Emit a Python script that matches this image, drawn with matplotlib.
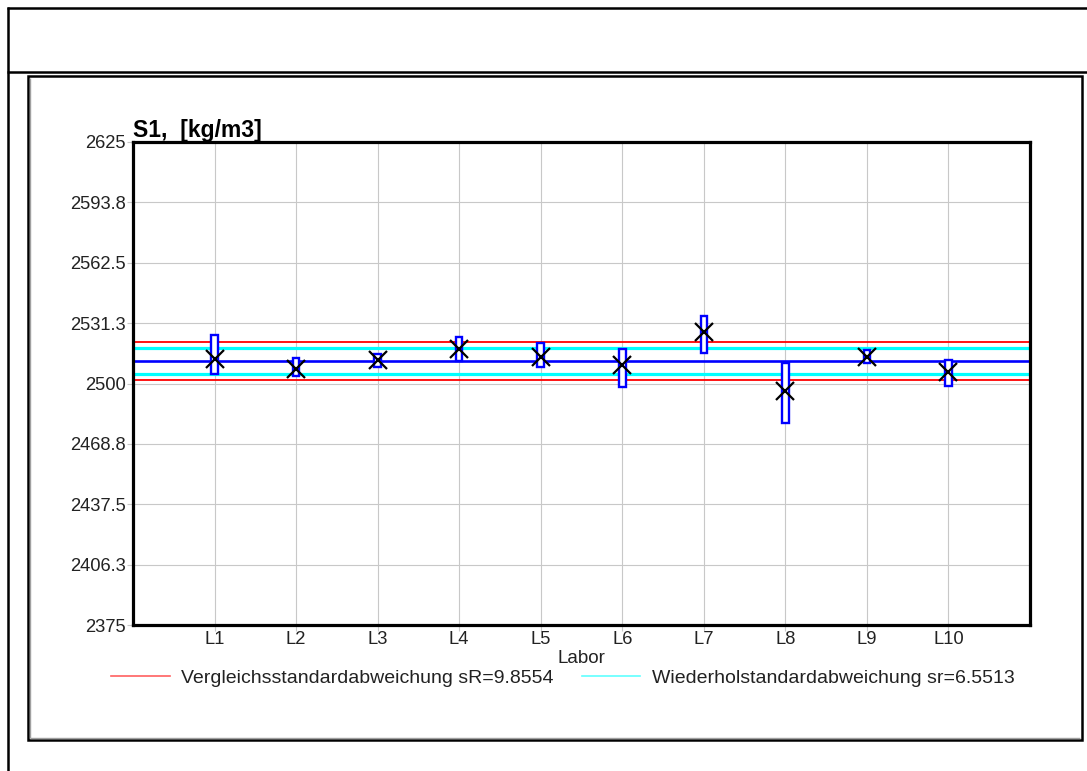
import numpy as np
import matplotlib
matplotlib.use('Agg')
import matplotlib.pyplot as plt
from matplotlib.lines import Line2D
from matplotlib.patches import Rectangle

plt.rcParams['font.family'] = ['Liberation Sans', 'DejaVu Sans']

# Labordaten S1 [kg/m3]
labs = ['L1', 'L2', 'L3', 'L4', 'L5', 'L6', 'L7', 'L8', 'L9', 'L10']
lab_mean = [2512.5, 2507.5, 2512.2, 2517.9, 2513.6, 2509.6, 2526.5, 2496.3, 2513.9, 2505.8]
box_low = [2505.1, 2503.7, 2508.4, 2511.5, 2508.4, 2498.3, 2515.8, 2479.5, 2510.6, 2498.5]
box_high = [2525.1, 2513.1, 2515.1, 2524.1, 2521.1, 2518.0, 2535.0, 2510.5, 2517.2, 2512.0]
sR = 9.8554
sr = 6.5513
y_ticks = [2375, 2406.25, 2437.5, 2468.75, 2500, 2531.25, 2562.5, 2593.75, 2625]
y_ticklabels = ['2375', '2406.3', '2437.5', '2468.8', '2500', '2531.3', '2562.5', '2593.8', '2625']

W, H = 1087, 771
fig = plt.figure(figsize=(W / 100, H / 100), dpi=100)


def fx(px):
    return px / W


def fy(py):
    return 1 - py / H


# Rahmen um das Diagramm
def frame_line(x0, y0, x1, y1, lw=1.8, color='black'):
    fig.add_artist(Line2D([fx(x0), fx(x1)], [fy(y0), fy(y1)], transform=fig.transFigure,
                          color=color, lw=lw, solid_capstyle='butt'))


frame_line(7, 8, W, 8)
frame_line(7.5, 7, 7.5, H)
frame_line(7, 72, W, 72)
# leichter Schatten innen am Rahmen
frame_line(30, 78, 30, 738, lw=1.0, color='#a0a0a0')
frame_line(30, 737.5, 1080, 737.5, lw=1.0, color='#a0a0a0')
fig.add_artist(Rectangle((fx(28), fy(740)), fx(1082) - fx(28), fy(76) - fy(740),
                         transform=fig.transFigure, fill=False, ec='black', lw=1.8))

ax = fig.add_axes([fx(133), fy(625), fx(1030) - fx(133), fy(142) - fy(625)])

x = np.arange(1, len(labs) + 1)
grand_mean = np.mean(lab_mean)

ax.axhline(grand_mean + sR, color='#ff0000', lw=1.3, zorder=2)
ax.axhline(grand_mean - sR, color='#ff0000', lw=1.3, zorder=2)
ax.axhline(grand_mean + sr, color='#00ffff', lw=2.3, zorder=2)
ax.axhline(grand_mean - sr, color='#00ffff', lw=2.3, zorder=2)
ax.axhline(grand_mean, color='#0000ff', lw=1.9, zorder=2)

bw = 0.08
for xi, lo, hi in zip(x, box_low, box_high):
    ax.add_patch(Rectangle((xi - bw / 2, lo), bw, hi - lo, fc='white', ec='#0000ff',
                           lw=1.7, zorder=3))
ax.plot(x, lab_mean, ls='none', marker='x', ms=13, mew=1.6, color='black', zorder=4)

ax.set_xlim(0, len(labs) + 1)
ax.set_ylim(2375, 2625)
ax.set_xticks(x)
ax.set_xticklabels(labs)
ax.set_yticks(y_ticks)
ax.set_yticklabels(y_ticklabels)
ax.grid(True, color='#c8c8c8', lw=0.8, zorder=0)
ax.set_axisbelow(True)
ax.tick_params(axis='both', colors='#c8c8c8', length=4, width=0.8, labelsize=13.2,
               labelcolor='#222222')
ax.tick_params(axis='x', pad=0.5)
ax.tick_params(axis='y', pad=1)
for s in ax.spines.values():
    s.set_linewidth(2.3)
    s.set_color('black')

ax.set_xlabel('Labor', fontsize=13.5, labelpad=1, color='#222222')
ax.text(0, 1.011, 'S1,  [kg/m3]', transform=ax.transAxes, ha='left', va='baseline',
        fontsize=16.5, fontweight='bold')

handles = [Line2D([], [], color='#ff6060', lw=1.2), Line2D([], [], color='#60ffff', lw=1.2)]
names = ['Vergleichsstandardabweichung sR=%.4f' % sR, 'Wiederholstandardabweichung sr=%.4f' % sr]
fig.legend(handles, names, loc='center', bbox_to_anchor=(fx(563), fy(678)), ncol=2,
           frameon=False, fontsize=14, handlelength=3.0, handletextpad=0.6,
           columnspacing=1.45, borderpad=0, labelcolor='#222222')

fig.savefig('out.png', dpi=100)
